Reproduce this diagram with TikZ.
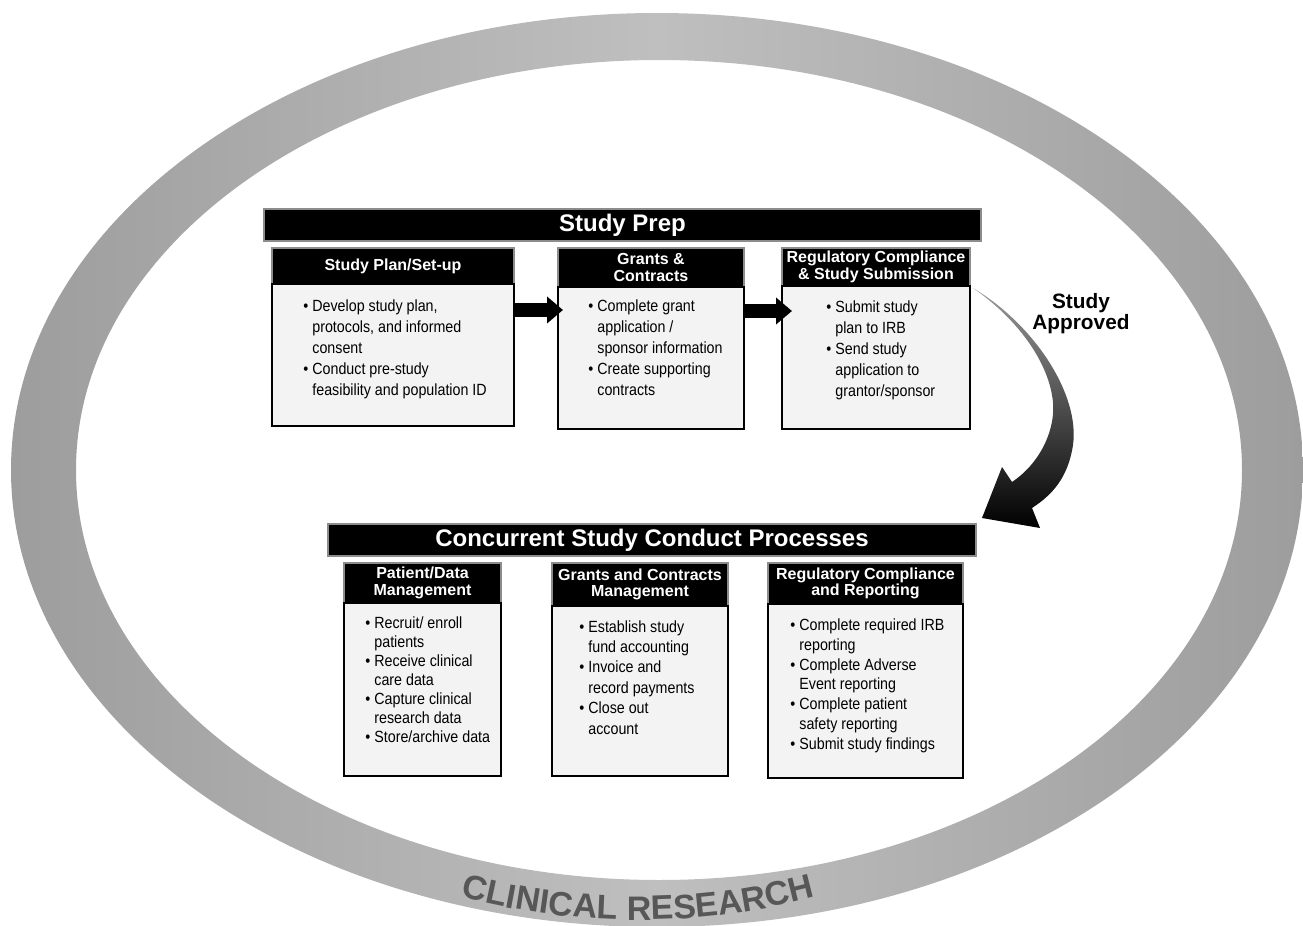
\documentclass[tikz,border=0pt]{standalone}
\usepackage{fontspec}
\setmainfont{Liberation Sans}
\newfontfamily\bodyfont{Liberation Sans}[FakeStretch=0.88]
\usetikzlibrary{arrows.meta,decorations.text}
\definecolor{ringside}{HTML}{9D9D9D}
\definecolor{ringmid}{HTML}{BFBFBF}
\definecolor{hdrline}{HTML}{8C8C8C}
\definecolor{bodyfill}{HTML}{F3F3F3}
\definecolor{ringtext}{HTML}{575757}
\newcommand\itembul{\llap{\textbullet\hspace{2pt}}}

\begin{document}
\begin{tikzpicture}[x=0.5pt,y=-0.5pt,
  bar/.style={fill=black, draw=hdrline, line width=1pt, text=white,
    font=\bfseries\fontsize{12}{12}\selectfont, anchor=north west, inner sep=0pt},
  hdr/.style={fill=black, draw=hdrline, line width=1pt, text=white,
    font=\bfseries\fontsize{8}{8.2}\selectfont, align=center, anchor=north west, inner sep=0pt},
  bodybox/.style={fill=bodyfill, draw=black, line width=0.8pt, anchor=north west, inner sep=0pt},
  % the base anchor of a multi-line node sits on its last line
  itemtext/.style={anchor=base west, align=left, inner sep=0pt},
  blockarrow/.style={line width=7pt, -{Triangle[length=8pt,width=13pt]}},
]
\useasboundingbox (0,0) rectangle (1303,926);
\fill[white] (0,0) rectangle (1303,926);

% outer ring
\shade[even odd rule, left color=ringside, right color=ringside, middle color=ringmid]
  (657,470) ellipse [x radius=646, y radius=457]
  (659,470) ellipse [x radius=583, y radius=410];
\path[decorate, decoration={text along path, text align=center,
    text={|\color{ringtext}\bfseries\fontsize{17}{17}\selectfont|CLINICAL RESEARCH}}]
  (638,470) ++(125:560 and 450) arc[start angle=125, end angle=55, x radius=560, y radius=450];

% study preparation
\node[bar, minimum width=358.5pt, minimum height=16pt] (prep) at (263,208) {Study Prep};

\node[hdr, minimum width=121pt, minimum height=18pt] (h1) at (271,247) {Study Plan/Set-up};
\node[bodybox, minimum width=121pt, minimum height=71pt] (b1) at (271,283) {};
\node[hdr, minimum width=93pt, minimum height=19.5pt] (h2) at (557,247) {Grants \&\\Contracts};
\node[bodybox, minimum width=93pt, minimum height=71pt] (b2) at (557,286) {};
\node[hdr, minimum width=94pt, minimum height=19pt] (h3) at (781,247) {Regulatory Compliance\\\& Study Submission};
\node[bodybox, minimum width=94pt, minimum height=71.5pt] (b3) at (781,285) {};

\node[itemtext, font=\bodyfont\fontsize{8.1}{10.5}\selectfont] (t1) at (312,395.5)
  {\itembul Develop study plan,\\protocols, and informed\\consent\\\itembul Conduct pre-study\\feasibility and population ID};
\node[itemtext, font=\bodyfont\fontsize{8.1}{10.5}\selectfont] (t2) at (597,395.5)
  {\itembul Complete grant\\application /\\sponsor information\\\itembul Create supporting\\contracts};
\node[itemtext, font=\bodyfont\fontsize{8.1}{10.5}\selectfont] (t3) at (835,396)
  {\itembul Submit study\\plan to IRB\\\itembul Send study\\application to\\grantor/sponsor};

\draw[blockarrow] (b1.east |- 0,310) -- ([xshift=3pt]b2.west |- 0,310);
\draw[blockarrow] (b2.east |- 0,311) -- ([xshift=5.5pt]b3.west |- 0,311);

% approval arrow
\coordinate (astart) at (973,288);
\shade[top color=black!40, bottom color=black]
  (astart) .. controls (1035,325) and (1080,395) .. (1073,445)
  .. controls (1068,478) and (1052,495) .. (1032,508)
  -- (1040,528) -- (982,518) -- (1002,467) -- (1012,482)
  .. controls (1042,462) and (1058,425) .. (1052,395)
  .. controls (1045,355) and (1012,315) .. cycle;
\node[font=\bfseries\fontsize{10.4}{10.5}\selectfont, align=center, inner sep=0pt] (appr) at (1081,314) {Study\\Approved};

% concurrent processes
\node[bar, minimum width=324pt, minimum height=16pt] (conc) at (327,523) {Concurrent Study Conduct Processes};

\node[hdr, minimum width=78.5pt, minimum height=20pt] (hA) at (343,562) {Patient/Data\\Management};
\node[bodybox, minimum width=78.5pt, minimum height=86.5pt] (bA) at (343,602) {};
\node[hdr, minimum width=88pt, minimum height=21.5pt] (hB) at (551,562) {Grants and Contracts\\Management};
\node[bodybox, minimum width=88pt, minimum height=85pt] (bB) at (551,605) {};
\node[hdr, minimum width=97.5pt, minimum height=20.5pt] (hC) at (767,562) {Regulatory Compliance\\and Reporting};
\node[bodybox, minimum width=97.5pt, minimum height=87pt] (bC) at (767,603) {};

\node[itemtext, font=\bodyfont\fontsize{8.1}{9.5}\selectfont] (tA) at (374,742.5)
  {\itembul Recruit/ enroll\\patients\\\itembul Receive clinical\\care data\\\itembul Capture clinical\\research data\\\itembul Store/archive data};
\node[itemtext, font=\bodyfont\fontsize{8.1}{10.2}\selectfont] (tB) at (588,734)
  {\itembul Establish study\\fund accounting\\\itembul Invoice and\\record payments\\\itembul Close out\\account};
\node[itemtext, font=\bodyfont\fontsize{8.1}{9.9}\selectfont] (tC) at (799,749.3)
  {\itembul Complete required IRB\\reporting\\\itembul Complete Adverse\\Event reporting\\\itembul Complete patient\\safety reporting\\\itembul Submit study findings};
\end{tikzpicture}
\end{document}
